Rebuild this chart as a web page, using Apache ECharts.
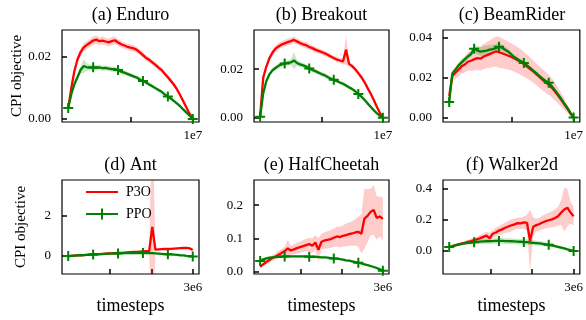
<!DOCTYPE html>
<html>
<head>
<meta charset="utf-8">
<script src="https://cdn.jsdelivr.net/npm/echarts@6/dist/echarts.min.js"></script>
<style>
html,body{margin:0;padding:0;background:#fff}
#chart{width:586px;height:320px}
</style>
</head>
<body>
<div id="chart"></div>
<script>
// time grid: 41 evaluation points per run
const stepsAtari = Array.from({length: 41}, (_, i) => i * 2.5e5);
const stepsMujoco = Array.from({length: 41}, (_, i) => i * 7.5e4);

// (a) Enduro
const enduroP3O = [0.0034,0.0100,0.0155,0.0192,0.0215,0.0230,0.0238,0.0245,0.0252,0.0255,0.0250,0.0252,0.0249,0.0246,0.0250,0.0253,0.0246,0.0240,0.0236,0.0232,0.0229,0.0227,0.0222,0.0214,0.0205,0.0196,0.0190,0.0182,0.0174,0.0165,0.0157,0.0145,0.0134,0.0122,0.0109,0.0094,0.0075,0.0056,0.0036,0.0016,0.0002];
const enduroP3OBand = [0.0003,0.0008,0.0010,0.0011,0.0012,0.0013,0.0012,0.0013,0.0014,0.0013,0.0012,0.0013,0.0012,0.0012,0.0013,0.0012,0.0011,0.0011,0.0010,0.0010,0.0010,0.0010,0.0010,0.0009,0.0010,0.0009,0.0009,0.0009,0.0009,0.0008,0.0008,0.0008,0.0008,0.0007,0.0007,0.0007,0.0006,0.0005,0.0004,0.0003,0.0002];
const enduroPPO = [0.0035,0.0080,0.0112,0.0135,0.0158,0.0170,0.0166,0.0165,0.0166,0.0164,0.0166,0.0163,0.0164,0.0162,0.0160,0.0160,0.0157,0.0152,0.0149,0.0145,0.0141,0.0137,0.0133,0.0127,0.0122,0.0117,0.0111,0.0105,0.0099,0.0093,0.0087,0.0079,0.0072,0.0065,0.0057,0.0049,0.0040,0.0030,0.0020,0.0010,0.0000];
const enduroPPOBand = [0.0003,0.0008,0.0010,0.0010,0.0012,0.0022,0.0012,0.0010,0.0009,0.0009,0.0009,0.0009,0.0008,0.0008,0.0008,0.0008,0.0008,0.0008,0.0007,0.0007,0.0007,0.0007,0.0007,0.0007,0.0006,0.0006,0.0006,0.0006,0.0006,0.0006,0.0005,0.0005,0.0005,0.0005,0.0005,0.0004,0.0004,0.0003,0.0003,0.0002,0.0001];

// (b) Breakout
const breakoutP3O = [0.0004,0.0165,0.0210,0.0245,0.0268,0.0285,0.0294,0.0302,0.0307,0.0312,0.0316,0.0321,0.0315,0.0308,0.0303,0.0299,0.0292,0.0287,0.0281,0.0276,0.0271,0.0266,0.0260,0.0253,0.0246,0.0240,0.0236,0.0232,0.0280,0.0222,0.0213,0.0200,0.0184,0.0167,0.0147,0.0123,0.0100,0.0074,0.0046,0.0020,0.0001];
const breakoutP3OBand = [0.0003,0.0010,0.0012,0.0012,0.0013,0.0013,0.0014,0.0013,0.0014,0.0015,0.0014,0.0014,0.0013,0.0013,0.0012,0.0013,0.0012,0.0012,0.0012,0.0011,0.0011,0.0011,0.0011,0.0010,0.0010,0.0011,0.0010,0.0012,0.0060,0.0010,0.0010,0.0009,0.0009,0.0009,0.0008,0.0008,0.0007,0.0006,0.0005,0.0003,0.0002];
const breakoutPPO = [0.0004,0.0100,0.0150,0.0178,0.0195,0.0205,0.0214,0.0220,0.0224,0.0226,0.0228,0.0236,0.0226,0.0220,0.0216,0.0211,0.0203,0.0197,0.0192,0.0186,0.0180,0.0175,0.0168,0.0161,0.0156,0.0151,0.0145,0.0140,0.0133,0.0125,0.0118,0.0109,0.0098,0.0087,0.0074,0.0059,0.0045,0.0031,0.0019,0.0008,0.0000];
const breakoutPPOBand = [0.0003,0.0008,0.0009,0.0009,0.0009,0.0010,0.0010,0.0010,0.0010,0.0011,0.0012,0.0035,0.0012,0.0011,0.0010,0.0010,0.0010,0.0010,0.0009,0.0009,0.0009,0.0009,0.0009,0.0008,0.0008,0.0008,0.0008,0.0008,0.0008,0.0007,0.0007,0.0007,0.0007,0.0006,0.0006,0.0005,0.0005,0.0004,0.0003,0.0002,0.0001];

// (c) BeamRider
const beamP3O = [0.0110,0.0210,0.0225,0.0240,0.0257,0.0266,0.0280,0.0285,0.0292,0.0298,0.0295,0.0305,0.0312,0.0318,0.0325,0.0331,0.0328,0.0322,0.0316,0.0310,0.0304,0.0296,0.0287,0.0278,0.0268,0.0256,0.0244,0.0232,0.0218,0.0204,0.0190,0.0177,0.0165,0.0150,0.0132,0.0112,0.0090,0.0068,0.0046,0.0022,0.0002];
const beamP3OBand = [0.0010,0.0025,0.0030,0.0033,0.0036,0.0040,0.0045,0.0050,0.0055,0.0058,0.0060,0.0062,0.0065,0.0068,0.0072,0.0075,0.0078,0.0075,0.0072,0.0070,0.0068,0.0066,0.0065,0.0064,0.0062,0.0060,0.0058,0.0056,0.0055,0.0054,0.0053,0.0052,0.0050,0.0048,0.0045,0.0040,0.0035,0.0028,0.0020,0.0012,0.0004];
const beamPPO = [0.0080,0.0222,0.0240,0.0262,0.0277,0.0292,0.0306,0.0318,0.0345,0.0336,0.0330,0.0333,0.0335,0.0340,0.0343,0.0348,0.0355,0.0350,0.0340,0.0330,0.0316,0.0302,0.0292,0.0283,0.0274,0.0262,0.0249,0.0236,0.0223,0.0209,0.0196,0.0184,0.0175,0.0158,0.0138,0.0117,0.0096,0.0072,0.0050,0.0025,0.0003];
const beamPPOBand = [0.0005,0.0010,0.0010,0.0011,0.0012,0.0013,0.0014,0.0015,0.0018,0.0020,0.0022,0.0025,0.0025,0.0024,0.0022,0.0020,0.0018,0.0016,0.0015,0.0014,0.0013,0.0012,0.0012,0.0011,0.0011,0.0010,0.0010,0.0010,0.0010,0.0010,0.0009,0.0009,0.0009,0.0008,0.0008,0.0007,0.0007,0.0006,0.0005,0.0004,0.0003];

// (d) Ant
const antP3O = [0.00,0.01,0.02,0.03,0.04,0.05,0.06,0.07,0.08,0.09,0.10,0.11,0.12,0.13,0.13,0.14,0.15,0.16,0.17,0.18,0.19,0.20,0.21,0.22,0.23,0.24,0.25,1.45,0.32,0.33,0.34,0.35,0.35,0.36,0.37,0.38,0.39,0.40,0.41,0.38,0.30];
const antP3OBand = [0.01,0.02,0.02,0.02,0.02,0.02,0.02,0.02,0.02,0.02,0.02,0.02,0.02,0.02,0.02,0.02,0.02,0.02,0.02,0.02,0.02,0.02,0.02,0.02,0.03,0.03,0.04,6.00,0.04,0.03,0.03,0.03,0.03,0.03,0.03,0.03,0.03,0.03,0.03,0.03,0.03];
const antPPO = [0.00,0.01,0.02,0.03,0.04,0.05,0.06,0.07,0.08,0.09,0.10,0.10,0.11,0.12,0.12,0.13,0.13,0.14,0.14,0.15,0.15,0.15,0.15,0.15,0.15,0.15,0.14,0.14,0.13,0.12,0.11,0.10,0.09,0.08,0.07,0.06,0.04,0.03,0.01,0.00,-0.02];
const antPPOBand = [0.01,0.02,0.02,0.02,0.03,0.03,0.03,0.03,0.03,0.03,0.03,0.03,0.03,0.03,0.03,0.03,0.03,0.03,0.03,0.03,0.03,0.03,0.03,0.03,0.03,0.03,0.03,0.03,0.03,0.03,0.03,0.03,0.03,0.03,0.03,0.03,0.03,0.03,0.03,0.03,0.03];

// (e) HalfCheetah
const cheetahP3O = [0.015,0.022,0.029,0.035,0.041,0.046,0.051,0.056,0.062,0.070,0.064,0.067,0.071,0.074,0.077,0.080,0.083,0.078,0.088,0.066,0.090,0.094,0.096,0.098,0.102,0.106,0.104,0.108,0.110,0.113,0.115,0.118,0.120,0.114,0.160,0.168,0.180,0.186,0.162,0.166,0.159];
const cheetahP3OBand = [0.004,0.006,0.007,0.008,0.009,0.010,0.011,0.012,0.013,0.025,0.014,0.015,0.016,0.017,0.018,0.019,0.020,0.022,0.022,0.035,0.024,0.025,0.026,0.027,0.028,0.030,0.031,0.032,0.034,0.035,0.037,0.040,0.045,0.060,0.090,0.080,0.070,0.075,0.065,0.060,0.065];
const cheetahPPO = [0.032,0.037,0.040,0.042,0.043,0.044,0.045,0.045,0.046,0.046,0.046,0.046,0.046,0.046,0.046,0.046,0.045,0.045,0.045,0.044,0.043,0.043,0.042,0.041,0.040,0.039,0.038,0.036,0.034,0.033,0.031,0.029,0.027,0.025,0.022,0.020,0.017,0.014,0.011,0.007,0.003];
const cheetahPPOBand = [0.002,0.003,0.003,0.003,0.003,0.003,0.003,0.003,0.003,0.003,0.003,0.003,0.003,0.003,0.003,0.003,0.003,0.003,0.003,0.003,0.003,0.003,0.003,0.003,0.003,0.003,0.003,0.003,0.003,0.003,0.003,0.003,0.003,0.003,0.003,0.003,0.003,0.003,0.003,0.003,0.002];

// (f) Walker2d
const walkerP3O = [0.025,0.031,0.037,0.042,0.047,0.052,0.058,0.063,0.069,0.075,0.082,0.090,0.098,0.080,0.110,0.118,0.130,0.138,0.148,0.156,0.164,0.170,0.178,0.176,0.182,0.180,0.065,0.155,0.165,0.172,0.182,0.190,0.196,0.202,0.210,0.222,0.245,0.265,0.276,0.245,0.222];
const walkerP3OBand = [0.004,0.006,0.008,0.009,0.010,0.012,0.013,0.015,0.016,0.018,0.020,0.022,0.024,0.035,0.026,0.028,0.030,0.032,0.034,0.036,0.040,0.035,0.036,0.037,0.038,0.050,0.200,0.060,0.040,0.042,0.044,0.046,0.048,0.050,0.055,0.060,0.080,0.140,0.120,0.070,0.060];
const walkerPPO = [0.025,0.030,0.035,0.040,0.045,0.048,0.051,0.054,0.056,0.058,0.060,0.061,0.062,0.063,0.063,0.064,0.064,0.064,0.063,0.063,0.062,0.061,0.060,0.059,0.057,0.056,0.054,0.052,0.050,0.048,0.045,0.042,0.039,0.035,0.031,0.026,0.021,0.016,0.010,0.005,0.000];
const walkerPPOBand = [0.005,0.006,0.007,0.008,0.009,0.010,0.011,0.012,0.013,0.014,0.015,0.016,0.016,0.017,0.017,0.018,0.018,0.018,0.018,0.018,0.018,0.018,0.018,0.018,0.017,0.017,0.017,0.016,0.016,0.015,0.015,0.014,0.013,0.012,0.011,0.010,0.009,0.008,0.007,0.006,0.005];

// tick values and labels
const atariXTicks = [5e6, 1e7];
const atariXLabels = ['1e7'];
const mujocoXTicks = [1e6, 2e6, 3e6];
const mujocoXLabels = ['3e6'];
const enduroYTicks = [0, 0.02], enduroYLabels = ['0.00', '0.02'];
const breakoutYTicks = [0, 0.02], breakoutYLabels = ['0.00', '0.02'];
const beamYTicks = [0, 0.02, 0.04], beamYLabels = ['0.00', '0.02', '0.04'];
const antYTicks = [0, 2], antYLabels = ['0', '2'];
const cheetahYTicks = [0, 0.1, 0.2], cheetahYLabels = ['0.0', '0.1', '0.2'];
const walkerYTicks = [0, 0.2, 0.4], walkerYLabels = ['0.0', '0.2', '0.4'];

const FONT = 'Liberation Serif';
const RED = '#ff0000', GREEN = '#008000';
const markerIdx = [0, 8, 16, 24, 32, 40];

const panels = [
    {title: '(a) Enduro', steps: stepsAtari, xMax: 1e7, xTicks: atariXTicks, xLabels: atariXLabels,
     p3o: enduroP3O, p3oBand: enduroP3OBand, ppo: enduroPPO, ppoBand: enduroPPOBand,
     yMin: -0.001, yMax: 0.0286, yTicks: enduroYTicks, yLabels: enduroYLabels,
     grid: {left: 62, top: 30, width: 137, height: 92}, ylabel: true, xlabel: false},
    {title: '(b) Breakout', steps: stepsAtari, xMax: 1e7, xTicks: atariXTicks, xLabels: atariXLabels,
     p3o: breakoutP3O, p3oBand: breakoutP3OBand, ppo: breakoutPPO, ppoBand: breakoutPPOBand,
     yMin: -0.0018, yMax: 0.0362, yTicks: breakoutYTicks, yLabels: breakoutYLabels,
     grid: {left: 254, top: 30, width: 135, height: 92}, ylabel: false, xlabel: false},
    {title: '(c) BeamRider', steps: stepsAtari, xMax: 1e7, xTicks: atariXTicks, xLabels: atariXLabels,
     p3o: beamP3O, p3oBand: beamP3OBand, ppo: beamPPO, ppoBand: beamPPOBand,
     yMin: -0.002, yMax: 0.0438, yTicks: beamYTicks, yLabels: beamYLabels,
     grid: {left: 443, top: 30, width: 138, height: 92}, ylabel: false, xlabel: false},
    {title: '(d) Ant', steps: stepsMujoco, xMax: 3e6, xTicks: mujocoXTicks, xLabels: mujocoXLabels,
     p3o: antP3O, p3oBand: antP3OBand, ppo: antPPO, ppoBand: antPPOBand,
     yMin: -0.89, yMax: 3.77, yTicks: antYTicks, yLabels: antYLabels,
     grid: {left: 62, top: 180, width: 137, height: 94}, ylabel: true, xlabel: true},
    {title: '(e) HalfCheetah', steps: stepsMujoco, xMax: 3e6, xTicks: mujocoXTicks, xLabels: mujocoXLabels,
     p3o: cheetahP3O, p3oBand: cheetahP3OBand, ppo: cheetahPPO, ppoBand: cheetahPPOBand,
     yMin: -0.007, yMax: 0.276, yTicks: cheetahYTicks, yLabels: cheetahYLabels,
     grid: {left: 254, top: 180, width: 135, height: 94}, ylabel: false, xlabel: true},
    {title: '(f) Walker2d', steps: stepsMujoco, xMax: 3e6, xTicks: mujocoXTicks, xLabels: mujocoXLabels,
     p3o: walkerP3O, p3oBand: walkerP3OBand, ppo: walkerPPO, ppoBand: walkerPPOBand,
     yMin: -0.147, yMax: 0.453, yTicks: walkerYTicks, yLabels: walkerYLabels,
     grid: {left: 443, top: 180, width: 138, height: 94}, ylabel: false, xlabel: true}
];

// shaded spread: polygon of mean+band forward, mean-band backward
function bandSeries(i, steps, mean, band, color) {
    return {
        type: 'custom', xAxisIndex: i, yAxisIndex: i, silent: true, clip: true,
        data: [[steps[0], mean[0]]],
        renderItem: (params, api) => {
            const pts = [];
            steps.forEach((x, k) => pts.push(api.coord([x, mean[k] + band[k]])));
            for (let k = steps.length - 1; k >= 0; k--) pts.push(api.coord([steps[k], mean[k] - band[k]]));
            return {type: 'polygon', shape: {points: pts}, style: {fill: color}};
        }
    };
}

let grids = [], xAxes = [], yAxes = [], series = [], graphics = [];
panels.forEach((p, i) => {
    grids.push(Object.assign({show: true, borderColor: '#000', borderWidth: 1.2}, p.grid));
    xAxes.push({
        gridIndex: i, type: 'value', min: -0.05 * p.xMax, max: 1.05 * p.xMax,
        axisLine: {show: false, onZero: false}, splitLine: {show: false},
        axisTick: {show: true, inside: true, length: 5, customValues: p.xTicks,
            lineStyle: {color: '#000', width: 1.5}},
        axisLabel: {customValues: [p.xMax], formatter: () => p.xLabels[0],
            color: '#000', fontFamily: FONT, fontSize: 13, margin: 7},
        name: p.xlabel ? 'timesteps' : '', nameLocation: 'middle', nameGap: 23,
        nameTextStyle: {color: '#000', fontFamily: FONT, fontSize: 18}
    });
    yAxes.push({
        gridIndex: i, type: 'value', min: p.yMin, max: p.yMax,
        axisLine: {show: false, onZero: false}, splitLine: {show: false},
        axisTick: {show: true, inside: true, length: 5, customValues: p.yTicks,
            lineStyle: {color: '#000', width: 1.5}},
        axisLabel: {customValues: p.yTicks,
            formatter: v => { const k = p.yTicks.indexOf(v); return k >= 0 ? p.yLabels[k] : ''; },
            color: '#000', fontFamily: FONT, fontSize: 13, margin: 11},
        name: p.ylabel ? 'CPI objective' : '', nameLocation: 'middle', nameGap: 33,
        nameTextStyle: {color: '#000', fontFamily: FONT, fontSize: 15}
    });
    series.push(bandSeries(i, p.steps, p.p3o, p.p3oBand, 'rgba(255,0,0,0.2)'));
    series.push({
        name: 'P3O', type: 'line', xAxisIndex: i, yAxisIndex: i, symbol: 'none',
        color: RED, lineStyle: {color: RED, width: 2.3},
        data: p.steps.map((x, k) => [x, p.p3o[k]])
    });
    series.push(bandSeries(i, p.steps, p.ppo, p.ppoBand, 'rgba(0,128,0,0.2)'));
    series.push({
        name: 'PPO', type: 'line', xAxisIndex: i, yAxisIndex: i,
        symbol: 'path://M5,0L5,10M0,5L10,5', showAllSymbol: true,
        symbolSize: (v, params) => markerIdx.indexOf(params.dataIndex) >= 0 ? 10 : 0,
        color: GREEN, itemStyle: {color: GREEN, borderColor: GREEN, borderWidth: 2},
        lineStyle: {color: GREEN, width: 2.3},
        data: p.steps.map((x, k) => [x, p.ppo[k]])
    });
    graphics.push({
        type: 'text', x: p.grid.left + p.grid.width / 2, y: p.grid.top - 15,
        style: {text: p.title, fill: '#000', font: '18px "' + FONT + '"',
            textAlign: 'center', textVerticalAlign: 'middle'}
    });
});

let myChart = echarts.init(document.getElementById('chart'));
myChart.setOption({
    animation: false,
    backgroundColor: '#fff',
    grid: grids,
    xAxis: xAxes,
    yAxis: yAxes,
    series: series,
    graphic: graphics,
    legend: {
        data: [{name: 'P3O', itemStyle: {opacity: 0}}, 'PPO'],
        orient: 'vertical', left: 80, top: 180,
        itemWidth: 32, itemHeight: 14, itemGap: 8,
        textStyle: {color: '#000', fontFamily: FONT, fontSize: 14, padding: [0, 0, 0, 3]}
    }
});
</script>
</body>
</html>
